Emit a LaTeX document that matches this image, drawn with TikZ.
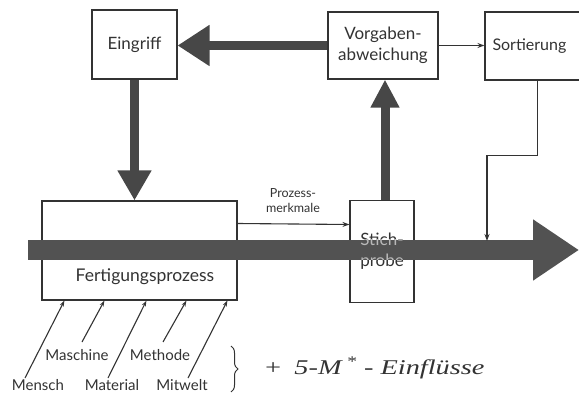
\documentclass[tikz,border=0pt]{standalone}
\usepackage{fontspec}
\setmainfont{Lato}
\newfontfamily\handfont{Liberation Serif}
\usetikzlibrary{arrows.meta,decorations.pathreplacing}
\definecolor{ink}{HTML}{333333}
\definecolor{fat}{HTML}{474747}
\definecolor{band}{HTML}{525252}
\definecolor{lighttext}{HTML}{B8B8B8}
\begin{document}
\begin{tikzpicture}[x=1pt,y=-1pt,
  box/.style={draw=ink, line width=1.1pt, fill=white, inner sep=0pt, text=ink, align=center, font=\fontsize{17}{21}\selectfont},
  lbl/.style={text=ink, inner sep=1pt, align=center, font=\fontsize{15}{19}\selectfont},
  small/.style={text=ink, inner sep=1pt, align=center, font=\fontsize{12.5}{15}\selectfont},
  fatarrow/.style={draw=fat, line width=9pt},
  thinarrow/.style={draw=ink, line width=1.1pt, -{Stealth[length=7pt,width=5pt]}},
  inarrow/.style={draw=ink, line width=1.1pt, -{Stealth[length=6pt,width=4pt]}}]
\useasboundingbox (0,0) rectangle (579,393);
\fill[white] (0,0) rectangle (579,393);

% boxes
\node[box, minimum width=85pt, minimum height=69pt] (eingriff) at (134.5,44.5) {Eingriff};
\node[box, minimum width=110pt, minimum height=67pt] (vorg) at (383,45.5) {Vorgaben-\\abweichung};
\node[box, minimum width=105pt, minimum height=68pt, text width=100pt, align=left, font=\fontsize{16}{20}\selectfont] (sort) at (537.5,46) {\hspace*{5pt}Sortierung};
\node[box, minimum width=195pt, minimum height=99pt] (fert) at (139.5,250.5) {};
\node[lbl, font=\fontsize{17.5}{21}\selectfont] (fertlabel) at (145,277) {Fertigungsprozess};
\node[box, minimum width=64pt, minimum height=102pt] (stich) at (382,251.5) {Stich-\\probe};

% thick arrows
\draw[fatarrow, -{Triangle[length=32pt,width=39pt]}] (vorg.west) -- (eingriff.east |- vorg.west);
\draw[fatarrow, -{Triangle[length=30pt,width=32pt]}] (eingriff.south) -- (eingriff.south |- fert.north);
\draw[fatarrow, -{Triangle[length=28pt,width=27pt]}] ([xshift=3pt]stich.north) -- ([xshift=3pt]stich.north |- vorg.south);

% thin arrows
\draw[thinarrow] (vorg.east) -- (sort.west |- vorg.east);
\draw[thinarrow] ([yshift=27pt]fert.east) -- ([yshift=27pt]stich.west);
\node[small] (pm) at (293,201) {Prozess-\\merkmale};

% main flow arrow
\coordinate (bandstart) at (28,250);
\coordinate (bandend) at (579,250);
\draw[band, line width=20pt, -{Triangle[length=46pt,width=58pt]}] (bandstart) -- (bandend);
\begin{scope}
  \clip (350,240) rectangle (414,260);
  \node[box, draw=none, fill=none, text=lighttext, minimum width=64pt, minimum height=102pt] (stichlight) at (stich.center) {Stich-\\probe};
\end{scope}

\coordinate (sortdrop) at (487,241);
\draw[thinarrow] (sort.south) -- ++(0,75) -| (sortdrop);

% influences
\coordinate (t1) at (25,378);
\coordinate (t2) at (82,342);
\coordinate (t3) at (108,378);
\coordinate (t4) at (163,342);
\coordinate (t5) at (188,378);
\draw[inarrow] (t1) -- ([xshift=23pt]fert.south west);
\draw[inarrow] (t2) -- ([xshift=63pt]fert.south west);
\draw[inarrow] (t3) -- ([xshift=105pt]fert.south west);
\draw[inarrow] (t4) -- ([xshift=145pt]fert.south west);
\draw[inarrow] (t5) -- ([xshift=186pt]fert.south west);
\node[lbl] (mensch) at (38,385) {Mensch};
\node[lbl] (maschine) at (77,355) {Maschine};
\node[lbl] (material) at (112,385) {Material};
\node[lbl] (methode) at (160,355) {Methode};
\node[lbl] (mitwelt) at (182,385) {Mitwelt};

\coordinate (b1) at (231,346);
\coordinate (b2) at (231,392);
\draw[ink, line width=1pt, decorate, decoration={brace, amplitude=7pt}] (b1) -- (b2);
\node[text=ink, inner sep=0pt, font=\handfont\itshape\fontsize{21}{24}\selectfont] (hand) at (374,368) {\scalebox{1.35}[1]{+\, 5-M\,\textsuperscript{*} - Einflüsse}};
\end{tikzpicture}
\end{document}
